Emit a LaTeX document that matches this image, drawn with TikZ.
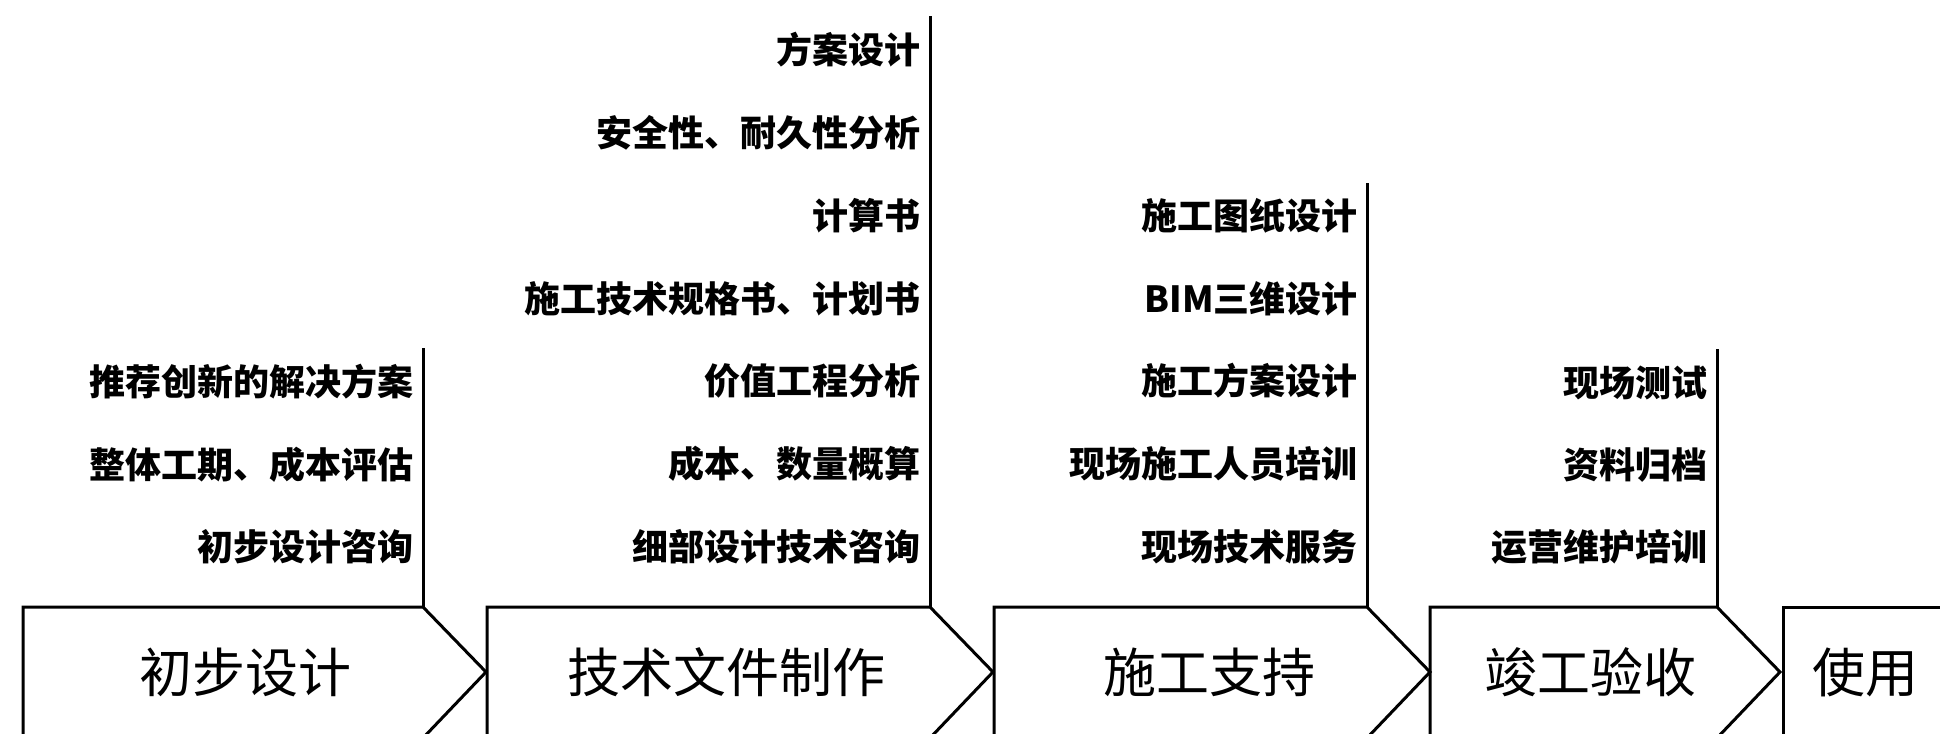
\documentclass[tikz,border=0pt]{standalone}
\usepackage{fontspec}
\newfontfamily\cjk{Noto Sans CJK SC}
\usetikzlibrary{positioning}

\begin{document}
\begin{tikzpicture}[
  x=0.5pt, y=-0.5pt,
  stage/.style={draw, line width=1.5pt, line join=miter},
  riser/.style={draw, line width=1.5pt},
  stagetext/.style={font=\cjk\fontsize{26.5}{26.5}\selectfont, inner sep=0pt},
  item/.style={font=\cjk\bfseries\fontsize{18}{18}\selectfont, anchor=east, inner sep=0pt},
]
\useasboundingbox (0,0) rectangle (1940,734);
\clip (0,0) rectangle (1940,734);

% stage outlines
\foreach \l/\c in {23/423, 487/930, 994/1367, 1430/1717}
  \draw[stage] (\l,738) -- (\l,607) -- (\c,607) -- ({\c+63},672) -- (\c,738);
\draw[stage] (1783,738) -- (1783,607) -- (1950,607);

% risers above the corners
\draw[riser] (423,608) -- (423,348);
\draw[riser] (930,608) -- (930,16);
\draw[riser] (1367,608) -- (1367,183);
\draw[riser] (1717,608) -- (1717,349);

% stage names
\node[stagetext] (s1) at (245,672) {初步设计};
\node[stagetext] (s2) at (726,672) {技术文件制作};
\node[stagetext] (s3) at (1209,672) {施工支持};
\node[stagetext] (s4) at (1590,672) {竣工验收};
\node[stagetext] (s5) at (1865,672) {使用};

% tasks of each stage
\node[item] (a1) at (414,382) {推荐创新的解决方案};
\node[item] (a2) at (414,465) {整体工期、成本评估};
\node[item] (a3) at (414,547) {初步设计咨询};

\node[item] (b1) at (921,50) {方案设计};
\node[item] (b2) at (921,133) {安全性、耐久性分析};
\node[item] (b3) at (921,216) {计算书};
\node[item] (b4) at (921,299) {施工技术规格书、计划书};
\node[item] (b5) at (921,381) {价值工程分析};
\node[item] (b6) at (921,464) {成本、数量概算};
\node[item] (b7) at (921,547) {细部设计技术咨询};

\node[item] (c1) at (1358,216) {施工图纸设计};
\node[item] (c2) at (1358,299) {BIM三维设计};
\node[item] (c3) at (1358,381) {施工方案设计};
\node[item] (c4) at (1358,464) {现场施工人员培训};
\node[item] (c5) at (1358,547) {现场技术服务};

\node[item] (d1) at (1708,383) {现场测试};
\node[item] (d2) at (1708,465) {资料归档};
\node[item] (d3) at (1708,547) {运营维护培训};
\end{tikzpicture}
\end{document}
